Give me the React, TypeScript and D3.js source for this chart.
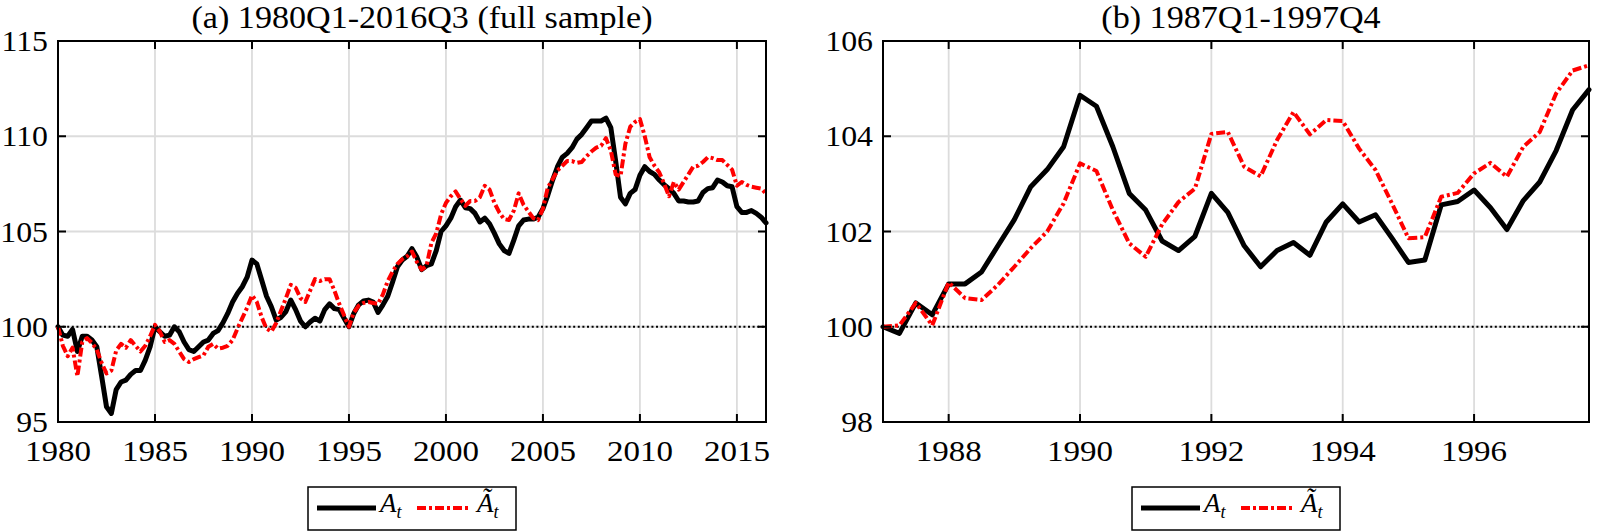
import React from "react";
import * as d3 from "d3";

// ---------- DATA ----------
// Panel (a): quarterly, 1980Q1 - 2016Q3
const fullStart = 1980;
const fullA: number[] = [
  100.0, 99.56, 99.5, 99.86,
  98.7, 99.5, 99.5, 99.3,
  98.95, 97.4, 95.8, 95.45,
  96.7, 97.1, 97.2, 97.5,
  97.7, 97.7, 98.25, 98.95,
  100.0, 99.74, 99.5, 99.56,
  100.0, 99.74, 99.2, 98.8,
  98.7, 98.95, 99.2, 99.3,
  99.65, 99.8, 100.2, 100.7,
  101.3, 101.75, 102.1, 102.6,
  103.5, 103.3, 102.45, 101.6,
  101.05, 100.35, 100.5, 100.8,
  101.4, 100.9, 100.3, 100.0,
  100.25, 100.45, 100.3, 100.9,
  101.2, 100.95, 100.9, 100.45,
  100.0, 100.7, 101.15, 101.35,
  101.4, 101.3, 100.75, 101.15,
  101.6, 102.35, 103.15, 103.5,
  103.7, 104.1, 103.66, 103.0,
  103.2, 103.3, 104.0, 105.0,
  105.3, 105.7, 106.3, 106.65,
  106.25, 106.2, 105.95, 105.5,
  105.7, 105.4, 104.9, 104.35,
  104.0, 103.85, 104.55, 105.3,
  105.6, 105.65, 105.65, 105.75,
  106.2, 106.9, 107.7, 108.4,
  108.9, 109.1, 109.4, 109.85,
  110.1, 110.45, 110.8, 110.8,
  110.8, 110.95, 110.45, 108.7,
  106.8, 106.45, 107.0, 107.2,
  107.95, 108.4, 108.15, 108.0,
  107.7, 107.45, 107.25, 107.0,
  106.6, 106.6, 106.55, 106.55,
  106.6, 107.05, 107.25, 107.3,
  107.7, 107.6, 107.4, 107.35,
  106.3, 106.0, 106.0, 106.1,
  105.95, 105.75, 105.45,
];
const fullATilde: number[] = [
  100.0, 99.0, 98.45, 98.9,
  97.4, 99.2, 99.4, 99.15,
  98.8, 98.1, 97.55, 97.7,
  98.75, 99.1, 98.9, 99.3,
  99.0, 98.7, 99.0, 99.5,
  100.1, 99.75, 99.2, 99.3,
  99.1, 98.7, 98.3, 98.15,
  98.3, 98.4, 98.5, 98.95,
  99.1, 98.85, 98.9, 99.0,
  99.3, 99.9, 100.45, 101.0,
  101.65, 101.3, 100.5, 99.9,
  99.75, 100.2, 100.85, 101.5,
  102.2, 102.05, 101.5, 101.3,
  101.9, 102.5, 102.4, 102.5,
  102.5, 101.9, 101.2, 100.6,
  100.0, 100.75, 101.1, 101.25,
  101.3, 101.25, 101.2, 101.7,
  102.4, 102.9, 103.3, 103.55,
  103.7, 103.95, 103.4, 103.0,
  103.2, 104.4, 104.9, 105.9,
  106.5, 106.85, 107.1, 106.7,
  106.35, 106.6, 106.6, 106.8,
  107.4, 107.2, 106.5, 106.0,
  105.65, 105.6, 106.1, 107.0,
  106.4, 106.05, 105.7, 105.6,
  106.2, 107.3, 107.75, 108.2,
  108.45, 108.7, 108.7, 108.6,
  108.65, 108.95, 109.2, 109.4,
  109.5, 109.9, 109.25, 108.0,
  107.9, 109.6, 110.5, 110.75,
  110.9, 110.0, 108.9, 108.45,
  108.1, 107.5, 106.85, 107.6,
  107.2, 107.6, 108.0, 108.4,
  108.45, 108.65, 108.9, 108.85,
  108.75, 108.75, 108.5, 108.25,
  107.4, 107.6, 107.45, 107.35,
  107.3, 107.25, 107.0,
];
const fullXTicks = [1980, 1985, 1990, 1995, 2000, 2005, 2010, 2015];
const fullYTicks = [95, 100, 105, 110, 115];

// Panel (b): quarterly, 1987Q1 - 1997Q4
const subStart = 1987;
const subA: number[] = [
  100.0, 99.86, 100.5, 100.25,
  100.9, 100.9, 101.15, 101.7,
  102.25, 102.94, 103.3, 103.78,
  104.86, 104.63, 103.78, 102.8,
  102.45, 101.8, 101.6, 101.9,
  102.8, 102.4, 101.7, 101.26,
  101.6, 101.77, 101.5, 102.2,
  102.58, 102.2, 102.35, 101.86,
  101.35, 101.4, 102.56, 102.63,
  102.87, 102.5, 102.04, 102.65,
  103.04, 103.7, 104.55, 104.98,
];
const subATilde: number[] = [
  100.0, 100.03, 100.5, 100.03,
  100.93, 100.6, 100.56, 100.88,
  101.26, 101.65, 102.0, 102.59,
  103.43, 103.27, 102.45, 101.75,
  101.47, 102.15, 102.62, 102.9,
  104.05, 104.09, 103.36, 103.16,
  103.92, 104.51, 104.04, 104.34,
  104.32, 103.74, 103.29, 102.59,
  101.86, 101.88, 102.73, 102.81,
  103.22, 103.44, 103.15, 103.78,
  104.09, 104.9, 105.38, 105.49,
];
const subXTicks = [1988, 1990, 1992, 1994, 1996];
const subYTicks = [98, 100, 102, 104, 106];

const titles = ["(a) 1980Q1-2016Q3 (full sample)", "(b) 1987Q1-1997Q4"];

// ---------- STYLE ----------
const FONT = "'Liberation Serif', 'Times New Roman', Times, serif";
const SX = 1.1;
const SXY = 1.06;
const TOP = 41;
const BOTTOM = 422;

type PanelProps = {
  x0: number;
  x1: number;
  xDomain: [number, number];
  yDomain: [number, number];
  start: number;
  a: number[];
  at: number[];
  xTicks: number[];
  yTicks: number[];
  title: string;
  titleX: number;
};

function Panel(p: PanelProps) {
  const x = d3.scaleLinear().domain(p.xDomain).range([p.x0, p.x1]);
  const y = d3.scaleLinear().domain(p.yDomain).range([BOTTOM, TOP]);
  const toPts = (vals: number[]) => vals.map((v, i) => [p.start + i * 0.25, v] as [number, number]);
  const line = d3
    .line<[number, number]>()
    .x((d) => x(d[0]))
    .y((d) => y(d[1]));
  const tickLen = 8;
  const cx = (p.x0 + p.x1) / 2;
  const legW = 208;
  const legL = cx - legW / 2;
  const legT = 487;
  const legB = 530;
  const legY = 508;
  return (
    <g>
      {/* title */}
      <text
        transform={`translate(${p.titleX},28) scale(${SX},1)`}
        textAnchor="middle"
        fontFamily={FONT}
        fontSize={31}
        fill="#000"
      >
        {p.title}
      </text>
      {/* grid */}
      {p.xTicks.map((t) => (
        <line key={"gx" + t} x1={x(t)} x2={x(t)} y1={TOP} y2={BOTTOM} stroke="#dcdcdc" strokeWidth={1.8} />
      ))}
      {p.yTicks.map((t) => (
        <line key={"gy" + t} x1={p.x0} x2={p.x1} y1={y(t)} y2={y(t)} stroke="#dcdcdc" strokeWidth={1.8} />
      ))}
      {/* reference line at 100 */}
      <line x1={p.x0} x2={p.x1} y1={y(100)} y2={y(100)} stroke="#000" strokeWidth={2} strokeDasharray="2,2.6" />
      {/* series */}
      <path d={line(toPts(p.a)) || ""} fill="none" stroke="#000" strokeWidth={5} strokeLinejoin="round" strokeLinecap="round" />
      <path
        d={line(toPts(p.at)) || ""}
        fill="none"
        stroke="#ff0000"
        strokeWidth={4}
        strokeLinejoin="round"
        strokeDasharray="9,3,3,3"
      />
      {/* axes box */}
      <rect x={p.x0} y={TOP} width={p.x1 - p.x0} height={BOTTOM - TOP} fill="none" stroke="#000" strokeWidth={2} />
      {/* ticks */}
      {p.xTicks.map((t) => (
        <g key={"tx" + t}>
          <line x1={x(t)} x2={x(t)} y1={BOTTOM} y2={BOTTOM - tickLen} stroke="#000" strokeWidth={2} />
          <line x1={x(t)} x2={x(t)} y1={TOP} y2={TOP + tickLen} stroke="#000" strokeWidth={2} />
          <text
            transform={`translate(${x(t)},461) scale(${SX},1)`}
            textAnchor="middle"
            fontFamily={FONT}
            fontSize={30}
            fill="#000"
          >
            {t}
          </text>
        </g>
      ))}
      {p.yTicks.map((t) => (
        <g key={"ty" + t}>
          <line x1={p.x0} x2={p.x0 + tickLen} y1={y(t)} y2={y(t)} stroke="#000" strokeWidth={2} />
          <line x1={p.x1} x2={p.x1 - tickLen} y1={y(t)} y2={y(t)} stroke="#000" strokeWidth={2} />
          <text
            transform={`translate(${p.x0 - 10},${y(t) + 10}) scale(${SXY},1)`}
            textAnchor="end"
            fontFamily={FONT}
            fontSize={30}
            fill="#000"
          >
            {t}
          </text>
        </g>
      ))}
      {/* legend */}
      <rect x={legL} y={legT} width={legW} height={legB - legT} fill="#fff" stroke="#000" strokeWidth={1.5} />
      <line x1={legL + 9} x2={legL + 68} y1={legY} y2={legY} stroke="#000" strokeWidth={5} />
      <text x={legL + 72} y={512} fontFamily={FONT} fontStyle="italic" fontSize={27} fill="#000">
        A<tspan fontSize={18} dy={6}>t</tspan>
      </text>
      <line x1={legL + 109} x2={legL + 163} y1={legY} y2={legY} stroke="#ff0000" strokeWidth={4} strokeDasharray="9,3,3,3" />
      <text x={legL + 169} y={512} fontFamily={FONT} fontStyle="italic" fontSize={27} fill="#000">
        Ã<tspan fontSize={18} dy={6}>t</tspan>
      </text>
    </g>
  );
}

export default function App() {
  return (
    <svg
      width={1601}
      height={532}
      style={{ position: "absolute", left: 0, top: 0, background: "#fff" }}
    >
      <rect x={0} y={0} width={1601} height={532} fill="#fff" />
      <Panel
        x0={58}
        x1={766}
        xDomain={[fullStart, 2016.5]}
        yDomain={[95, 115]}
        start={fullStart}
        a={fullA}
        at={fullATilde}
        xTicks={fullXTicks}
        yTicks={fullYTicks}
        title={titles[0]}
        titleX={422}
      />
      <Panel
        x0={883}
        x1={1589}
        xDomain={[subStart, 1997.75]}
        yDomain={[98, 106]}
        start={subStart}
        a={subA}
        at={subATilde}
        xTicks={subXTicks}
        yTicks={subYTicks}
        title={titles[1]}
        titleX={1241}
      />
    </svg>
  );
}
